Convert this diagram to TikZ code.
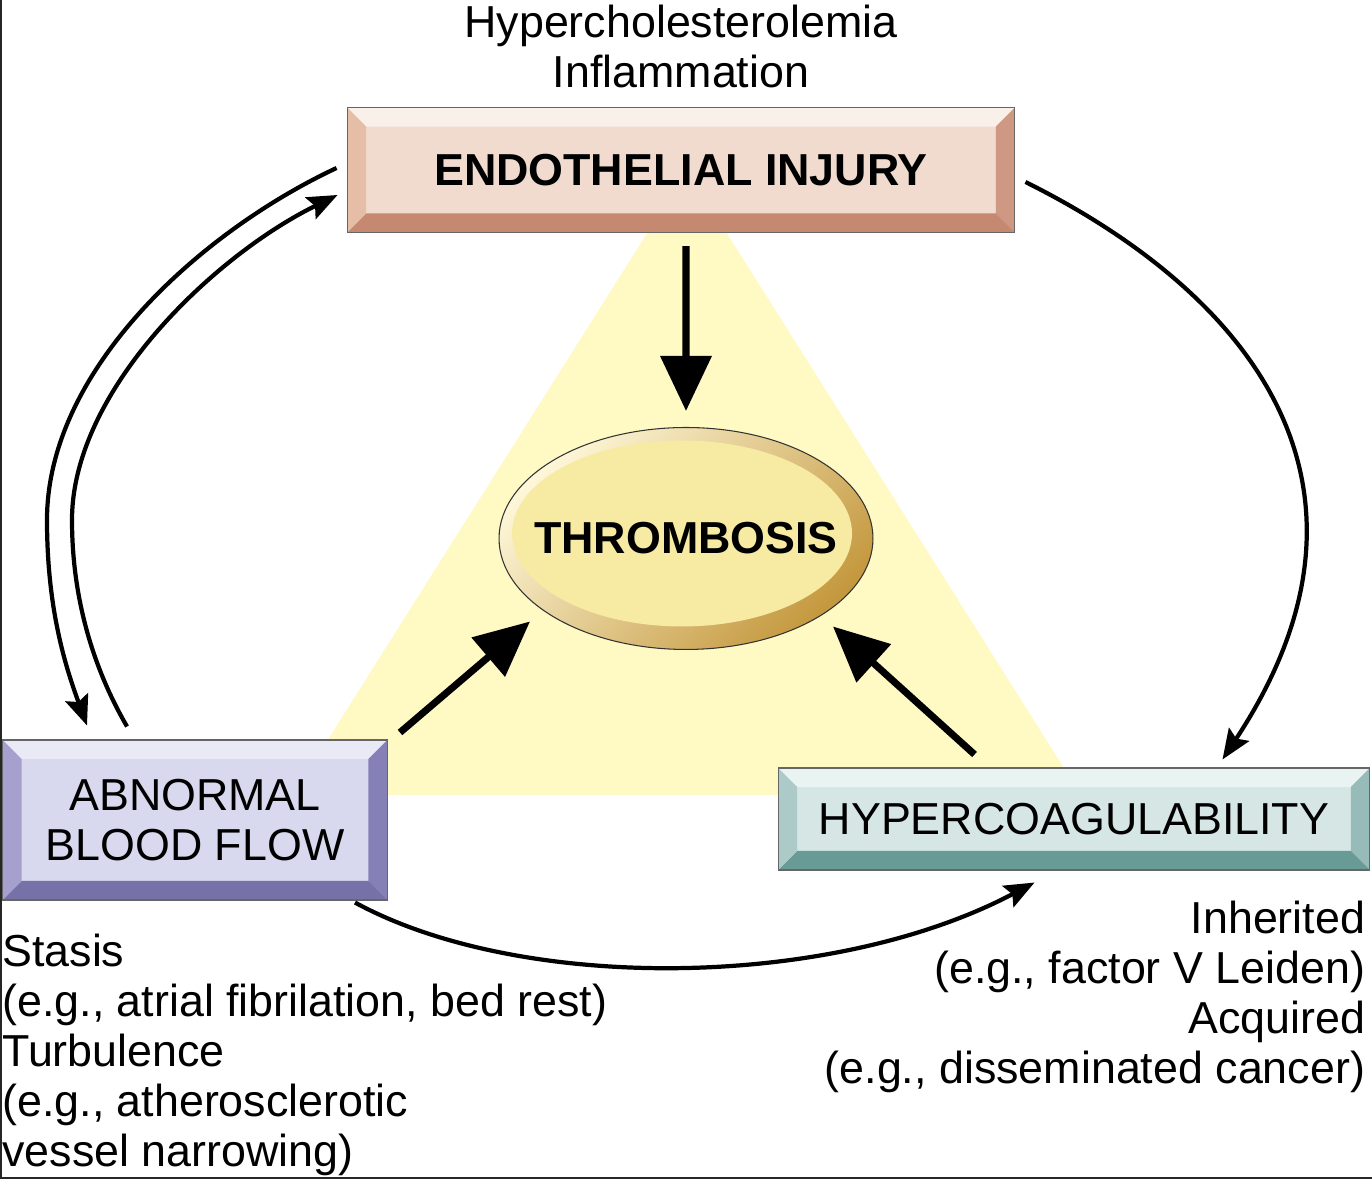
\documentclass[tikz,border=0pt]{standalone}
\usepackage{fontspec}
\setmainfont{Liberation Sans}
\usetikzlibrary{arrows.meta, positioning, calc, shapes.geometric}

\definecolor{triYellow}{RGB}{255,249,196}
\definecolor{endoFace}{RGB}{241,219,207}
\definecolor{endoTop}{RGB}{250,240,234}
\definecolor{endoRight}{RGB}{206,152,130}
\definecolor{endoBottom}{RGB}{196,137,112}
\definecolor{endoLeft}{RGB}{230,190,168}
\definecolor{flowFace}{RGB}{216,216,238}
\definecolor{flowTop}{RGB}{234,234,247}
\definecolor{flowRight}{RGB}{133,128,182}
\definecolor{flowBottom}{RGB}{118,114,168}
\definecolor{flowLeft}{RGB}{165,160,205}
\definecolor{coagFace}{RGB}{213,230,228}
\definecolor{coagTop}{RGB}{233,243,242}
\definecolor{coagRight}{RGB}{150,187,184}
\definecolor{coagBottom}{RGB}{104,154,150}
\definecolor{coagLeft}{RGB}{172,203,200}
\definecolor{thrLight}{RGB}{253,246,215}
\definecolor{thrDark}{RGB}{196,152,62}
\definecolor{thrFace}{RGB}{247,235,163}

\newcommand{\ppb}{path picture bounding box}

\begin{document}
\begin{tikzpicture}[x=0.02cm, y=-0.02cm,
        label_text/.style = {
            font=\fontsize{25.5}{28.45}\selectfont,
            inner sep=0
        },
        bold_text/.style = {font=\fontsize{25.5}{28.45}\selectfont\bfseries},
        bevel_box/.style n args={5}{
            rectangle,
            fill=#1,
            draw=black!60,
            line width=0.6pt,
            align=center,
            font=\fontsize{25.5}{28.45}\selectfont,
            path picture={
                \fill[#2] (\ppb.north west) -- (\ppb.north east) -- ([shift={(-19,19)}]\ppb.north east) -- ([shift={(19,19)}]\ppb.north west) -- cycle;
                \fill[#3] (\ppb.north east) -- (\ppb.south east) -- ([shift={(-19,-19)}]\ppb.south east) -- ([shift={(-19,19)}]\ppb.north east) -- cycle;
                \fill[#4] (\ppb.south west) -- (\ppb.south east) -- ([shift={(-19,-19)}]\ppb.south east) -- ([shift={(19,-19)}]\ppb.south west) -- cycle;
                \fill[#5] (\ppb.north west) -- (\ppb.south west) -- ([shift={(19,-19)}]\ppb.south west) -- ([shift={(19,19)}]\ppb.north west) -- cycle;
            }
        },
        thromb_node/.style = {
            ellipse,
            draw=black!80,
            line width=0.6pt,
            left color=thrLight,
            right color=thrDark,
            shading angle=45,
            minimum width=7.48cm,
            minimum height=4.44cm,
            path picture={
                \fill[thrFace] ([shift={(-4,-5)}]\ppb.center) ellipse [x radius=3.4cm, y radius=1.86cm];
            }
        },
        big_arrow/.style = {line width=4pt, -{Triangle[length=1.1cm, width=1cm]}},
        loop_arrow/.style = {line width=2.4pt, -{Stealth[length=0.6cm, width=0.48cm, inset=0.1cm]}},
        frame_line/.style = {black!85, line width=1.5pt}
        ]

        \fill[white] (0,0) rectangle (1372,1179);
        \useasboundingbox (0,0) rectangle (1372,1179);
        \draw[frame_line] (1,0) -- (1,1178) -- (1372,1178);

        \fill[triYellow] (687,170) -- (293,795) -- (1081,795) -- cycle;

        \node (endo) [bevel_box={endoFace}{endoTop}{endoRight}{endoBottom}{endoLeft}, bold_text, minimum width=13.36cm, minimum height=2.5cm] at (681,170) {ENDOTHELIAL INJURY};
        \node (thromb) [thromb_node, bold_text, below=3.88cm of endo, xshift=0.1cm] {\makebox[0pt]{THROMBOSIS}};
        \node (abn) [bevel_box={flowFace}{flowTop}{flowRight}{flowBottom}{flowLeft}, minimum width=7.7cm, minimum height=3.2cm] at (195,820) {ABNORMAL\\BLOOD FLOW};
        \node (hyper) [bevel_box={coagFace}{coagTop}{coagRight}{coagBottom}{coagLeft}, minimum width=11.84cm, minimum height=2.04cm] at (1074,819) {HYPERCOAGULABILITY};

        \node (risk_endo) [label_text, align=center, above=0.38cm of endo] {Hypercholesterolemia\\Inflammation};
        \node (risk_flow) [label_text, align=left, below=0.66cm of abn.south west, anchor=north west] {Stasis\\(e.g., atrial fibrilation, bed rest)\\Turbulence\\(e.g., atherosclerotic\\vessel narrowing)};
        \node (risk_coag) [label_text, align=right, below=0.6cm of hyper.south east, anchor=north east, xshift=-0.1cm] {Inherited\\(e.g., factor V Leiden)\\Acquired\\(e.g., disseminated cancer)};

        \draw[big_arrow] ($(endo.south)+(5,13)$) -- ($(thromb.north)+(0,-16)$);
        \draw[big_arrow] ($(abn.north east)+(12,-7)$) -- ($(thromb.center)+(-156,83)$);
        \draw[big_arrow] ($(hyper.north west)+(197,-13)$) -- ($(thromb.center)+(147,88)$);

        \draw[loop_arrow] ($(endo.west)+(-10,-2)$) .. controls (200,232) and (47,370) .. (47,520) .. controls (47,610) and (66,668) .. ($(abn.north west)+(85,-14)$);
        \draw[loop_arrow] ($(abn.north west)+(125,-13)$) .. controls (100,680) and (72,610) .. (72,520) .. controls (72,390) and (215,255) .. ($(endo.west)+(-9,25)$);
        \draw[loop_arrow] ($(endo.east)+(10,12)$) .. controls +(225,112) and +(181,-274) .. ($(hyper.north east)+(-148,-8)$);
        \draw[loop_arrow] ($(abn.south east)+(-33,2)$) .. controls +(165,90) and +(-205,108) .. ($(hyper.south west)+(257,12)$);

    \end{tikzpicture}
\end{document}
